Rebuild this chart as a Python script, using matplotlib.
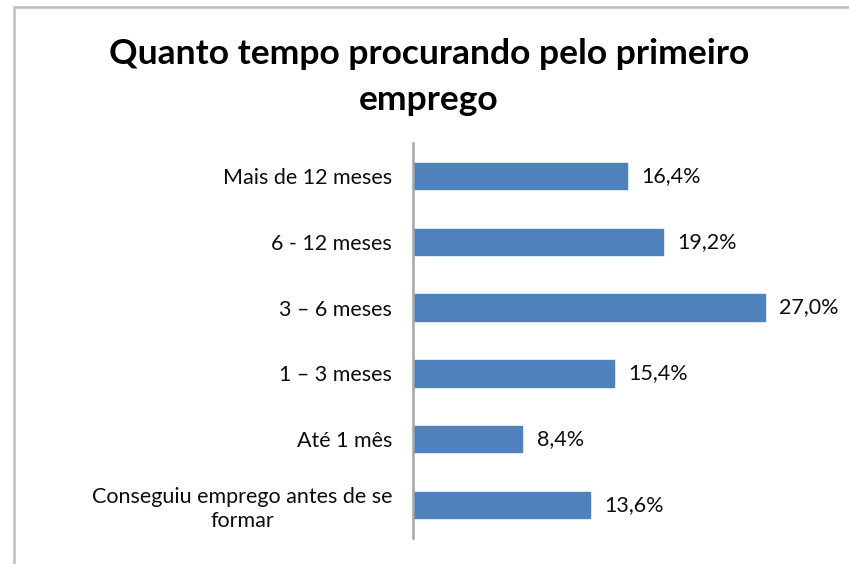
import matplotlib.pyplot as plt
from matplotlib.patches import Rectangle

# data (top to bottom as shown)
categories = ['Mais de 12 meses', '6 - 12 meses', '3 – 6 meses', '1 – 3 meses',
              'Até 1 mês', 'Conseguiu emprego antes de se\nformar']
values = [16.4, 19.2, 27.0, 15.4, 8.4, 13.6]
value_labels = ['16,4%', '19,2%', '27,0%', '15,4%', '8,4%', '13,6%']
title = 'Quanto tempo procurando pelo primeiro\nemprego'

plt.rcParams['font.family'] = ['Lato', 'DejaVu Sans']

fig = plt.figure(figsize=(8.49, 5.64), dpi=100)
fig.patch.set_facecolor('white')

# chart frame (only left and top edges visible in the crop)
fig.patches.append(Rectangle((14 / 849, -0.1), 1.2, 1 - 7 / 564 + 0.1,
                             transform=fig.transFigure, fill=False,
                             edgecolor='#BFBFBF', linewidth=1.8))

ax = fig.add_axes([413 / 849, 1 - 538 / 564, 391 / 849, (538 - 143) / 564])

ypos = list(range(len(categories)))[::-1]
ax.barh(ypos, values, height=0.4, color='#4F81BD', edgecolor='#4F81BD')
for y, v, lab in zip(ypos, values, value_labels):
    ax.text(v + 1.1, y, lab, va='center', ha='left', fontsize=15.5, color='#0d0d0d')

ax.set_xlim(0, 30)
ax.set_ylim(-0.5, len(categories) - 0.5)
ax.set_yticks(ypos)
ax.set_yticklabels(categories, fontsize=15.5, color='#0d0d0d', multialignment='center',
                   linespacing=1.25)
ax.tick_params(axis='y', length=0, pad=15)
ax.set_xticks([])
for s in ['top', 'right', 'bottom']:
    ax.spines[s].set_visible(False)
ax.spines['left'].set_color('#A6A6A6')
ax.spines['left'].set_linewidth(1.8)

fig.text(429 / 849, 1 - 77 / 564, title, ha='center', va='center',
         fontsize=25.5, fontweight='bold', linespacing=1.55, color='black')

fig.savefig('out.png', dpi=100)
